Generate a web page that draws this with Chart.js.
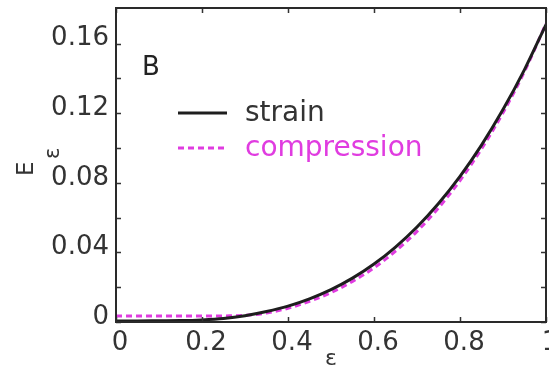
<!DOCTYPE html>
<html>
<head>
<meta charset="utf-8">
<script src="https://cdn.jsdelivr.net/npm/chart.js@4/dist/chart.umd.min.js"></script>
<style>
  body { margin: 0; background: #fff; }
  canvas { display: block; }
</style>
</head>
<body>
<canvas id="grafico" width="549" height="370"></canvas>
<script>
// datos
const epsilon = [0, 0.05, 0.1, 0.15, 0.2, 0.25, 0.3, 0.35, 0.4, 0.45, 0.5,
                 0.55, 0.6, 0.65, 0.7, 0.75, 0.8, 0.85, 0.9, 0.95, 1.0];
const strainValues = [0.0006, 0.0006, 0.0007, 0.0008, 0.0012, 0.0020, 0.0036, 0.0060, 0.0091, 0.0133, 0.0186,
                      0.0252, 0.0333, 0.0431, 0.0546, 0.0681, 0.0837, 0.1017, 0.1221, 0.1451, 0.1710];
const compressionValues = [0.0034, 0.0034, 0.0034, 0.0034, 0.0034, 0.0035, 0.0038, 0.0052, 0.0079, 0.0119, 0.0169,
                           0.0233, 0.0311, 0.0407, 0.0521, 0.0656, 0.0813, 0.0995, 0.1203, 0.1440, 0.1715];
const xTickValues = [0, 0.2, 0.4, 0.6, 0.8, 1];
const xTickLabels = ['0', '0.2', '0.4', '0.6', '0.8', '1'];
const yTickValues = [0, 0.02, 0.04, 0.06, 0.08, 0.1, 0.12, 0.14, 0.16];
const yLabelValues = [0, 0.04, 0.08, 0.12, 0.16];
const yLabelTexts = ['0', '0.04', '0.08', '0.12', '0.16'];

const fuente = "'DejaVu Sans', sans-serif";
const colorTexto = '#333';
const colorMagenta = '#e03ce0';

function aPuntos(xs, ys) {
    return xs.map((x, i) => ({ x: x, y: ys[i] }));
}

// marco, ticks hacia adentro, leyenda, etiqueta B y titulo del eje y
const decoracion = {
    id: 'decoracion',
    afterDraw(chart) {
        const ctx = chart.ctx;
        const area = chart.chartArea;
        const sx = chart.scales.x;
        const sy = chart.scales.y;
        ctx.save();

        // ticks
        ctx.strokeStyle = colorTexto;
        ctx.lineWidth = 1.5;
        ctx.beginPath();
        yTickValues.forEach(v => {
            const py = Math.round(sy.getPixelForValue(v)) + 0.5;
            ctx.moveTo(area.left, py); ctx.lineTo(area.left + 5, py);
            ctx.moveTo(area.right, py); ctx.lineTo(area.right - 5, py);
        });
        xTickValues.forEach(v => {
            const px = Math.round(sx.getPixelForValue(v)) + 0.5;
            ctx.moveTo(px, area.bottom); ctx.lineTo(px, area.bottom - 5);
            ctx.moveTo(px, area.top); ctx.lineTo(px, area.top + 5);
        });
        ctx.stroke();

        // marco
        ctx.lineWidth = 2;
        ctx.strokeStyle = '#2a2a2a';
        ctx.strokeRect(area.left, area.top, area.right - area.left, area.bottom - area.top);

        // etiqueta del panel
        ctx.fillStyle = '#222';
        ctx.font = '26px ' + fuente;
        ctx.textBaseline = 'alphabetic';
        ctx.textAlign = 'left';
        ctx.fillText('B', area.left + 26, 75);

        // leyenda
        const filas = [113, 148];
        chart.data.datasets.forEach((ds, i) => {
            const y = filas[i];
            ctx.beginPath();
            ctx.strokeStyle = ds.borderColor;
            ctx.lineWidth = ds.borderWidth;
            ctx.setLineDash(ds.borderDash || []);
            ctx.moveTo(area.left + 62, y);
            ctx.lineTo(area.left + 111, y);
            ctx.stroke();
            ctx.setLineDash([]);
            ctx.fillStyle = i === 0 ? colorTexto : colorMagenta;
            ctx.font = '28px ' + fuente;
            ctx.textBaseline = 'middle';
            ctx.fillText(ds.label, area.left + 129, y + 1);
        });

        // titulo eje y: E con subindice epsilon, girado
        ctx.fillStyle = colorTexto;
        ctx.textBaseline = 'alphabetic';
        ctx.save();
        ctx.translate(33, 176);
        ctx.rotate(-Math.PI / 2);
        ctx.font = '23px ' + fuente;
        ctx.fillText('E', 0, 0);
        ctx.font = '21px ' + fuente;
        ctx.fillText('ε', 17, 26);
        ctx.restore();

        ctx.restore();
    }
};

new Chart(document.getElementById('grafico'), {
    type: 'line',
    data: {
        datasets: [{
            label: 'strain',
            data: aPuntos(epsilon, strainValues),
            borderColor: '#1e1e1e',
            borderWidth: 3,
            pointRadius: 0,
            cubicInterpolationMode: 'monotone'
        }, {
            label: 'compression',
            data: aPuntos(epsilon, compressionValues),
            borderColor: colorMagenta,
            borderWidth: 3,
            borderDash: [6, 4],
            pointRadius: 0,
            cubicInterpolationMode: 'monotone'
        }]
    },
    options: {
        responsive: false,
        animation: false,
        devicePixelRatio: 1,
        layout: { padding: { top: 8, right: 3, left: 0, bottom: 0 } },
        plugins: {
            legend: { display: false },
            tooltip: { enabled: false }
        },
        scales: {
            x: {
                type: 'linear',
                min: 0,
                max: 1,
                grid: { display: false, drawTicks: false },
                border: { display: false },
                afterBuildTicks: s => { s.ticks = xTickValues.map(v => ({ value: v })); },
                afterFit: s => { s.height = 48; s.paddingLeft = 0; s.paddingRight = 0; },
                ticks: {
                    autoSkip: false,
                    maxRotation: 0,
                    padding: 6,
                    labelOffset: 4,
                    color: colorTexto,
                    font: { family: fuente, size: 26 },
                    callback: v => xTickLabels[xTickValues.indexOf(v)]
                },
                title: {
                    display: true,
                    text: 'ε',
                    color: colorTexto,
                    font: { family: fuente, size: 22, lineHeight: 1 },
                    padding: { top: 0, bottom: 0 }
                }
            },
            y: {
                type: 'linear',
                min: 0,
                max: 0.1805,
                grid: { display: false, drawTicks: false },
                border: { display: false },
                afterBuildTicks: s => { s.ticks = yLabelValues.map(v => ({ value: v })); },
                afterFit: s => { s.width = 116; s.paddingTop = 0; s.paddingBottom = 0; },
                ticks: {
                    autoSkip: false,
                    padding: 7,
                    labelOffset: -5,
                    color: colorTexto,
                    font: { family: fuente, size: 26 },
                    callback: v => yLabelTexts[yLabelValues.indexOf(v)]
                }
            }
        }
    },
    plugins: [decoracion]
});
</script>
</body>
</html>
